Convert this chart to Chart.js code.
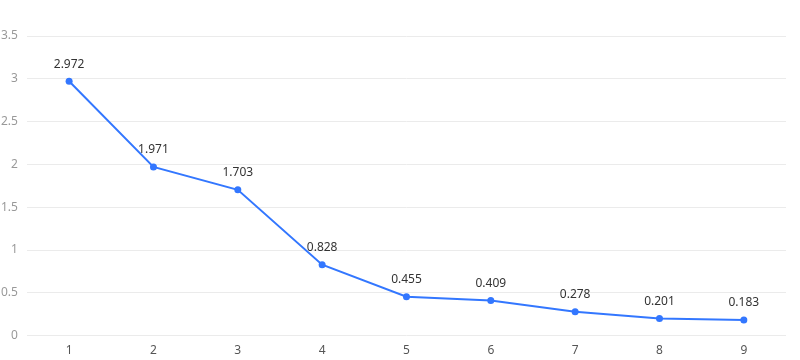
<!DOCTYPE html>
<html><head><meta charset="utf-8">
<script src="https://cdn.jsdelivr.net/npm/chart.js@4"></script>
<style>html,body{margin:0;padding:0;background:#fff}#wrap{width:800px;height:360px}</style>
</head><body><div id="wrap"><canvas id="c" width="800" height="360"></canvas></div>
<script>
const categories = ['1','2','3','4','5','6','7','8','9'];
const values = [2.972, 1.971, 1.703, 0.828, 0.455, 0.409, 0.278, 0.201, 0.183];

const labelPlugin = {
  id: 'valueLabels',
  afterDatasetsDraw(chart) {
    const ctx = chart.ctx;
    const meta = chart.getDatasetMeta(0);
    ctx.save();
    ctx.font = '12px "Noto Sans", sans-serif';
    ctx.fillStyle = '#333';
    ctx.textAlign = 'center';
    ctx.textBaseline = 'bottom';
    meta.data.forEach((pt, i) => {
      ctx.fillText(String(values[i]), pt.x, pt.y - 11);
    });
    ctx.restore();
  }
};

new Chart(document.getElementById('c'), {
  type: 'line',
  data: {
    labels: categories,
    datasets: [{
      data: values,
      borderColor: '#3377ff',
      backgroundColor: '#3377ff',
      borderWidth: 2,
      pointRadius: 3.5,
      pointBackgroundColor: '#3377ff',
      pointBorderWidth: 0,
      tension: 0,
      fill: false
    }]
  },
  options: {
    responsive: false,
    animation: false,
    devicePixelRatio: 1,
    layout: { padding: { top: 36, right: 14, left: -8, bottom: -6 } },
    plugins: { legend: { display: false }, tooltip: { enabled: false } },
    scales: {
      x: {
        offset: true,
        grid: { display: false, drawTicks: false },
        border: { display: false },
        ticks: { color: '#555', padding: 8, font: { size: 12, family: '"Noto Sans", sans-serif' } }
      },
      y: {
        min: 0, max: 3.5,
        grid: { color: '#ebebeb', drawTicks: false },
        border: { display: false },
        ticks: {
          stepSize: 0.5, color: '#999', padding: 9,
          font: { size: 12, family: '"Noto Sans", sans-serif' },
          callback: (v) => String(Math.round(v * 10) / 10)
        }
      }
    }
  },
  plugins: [labelPlugin]
});
</script></body></html>
